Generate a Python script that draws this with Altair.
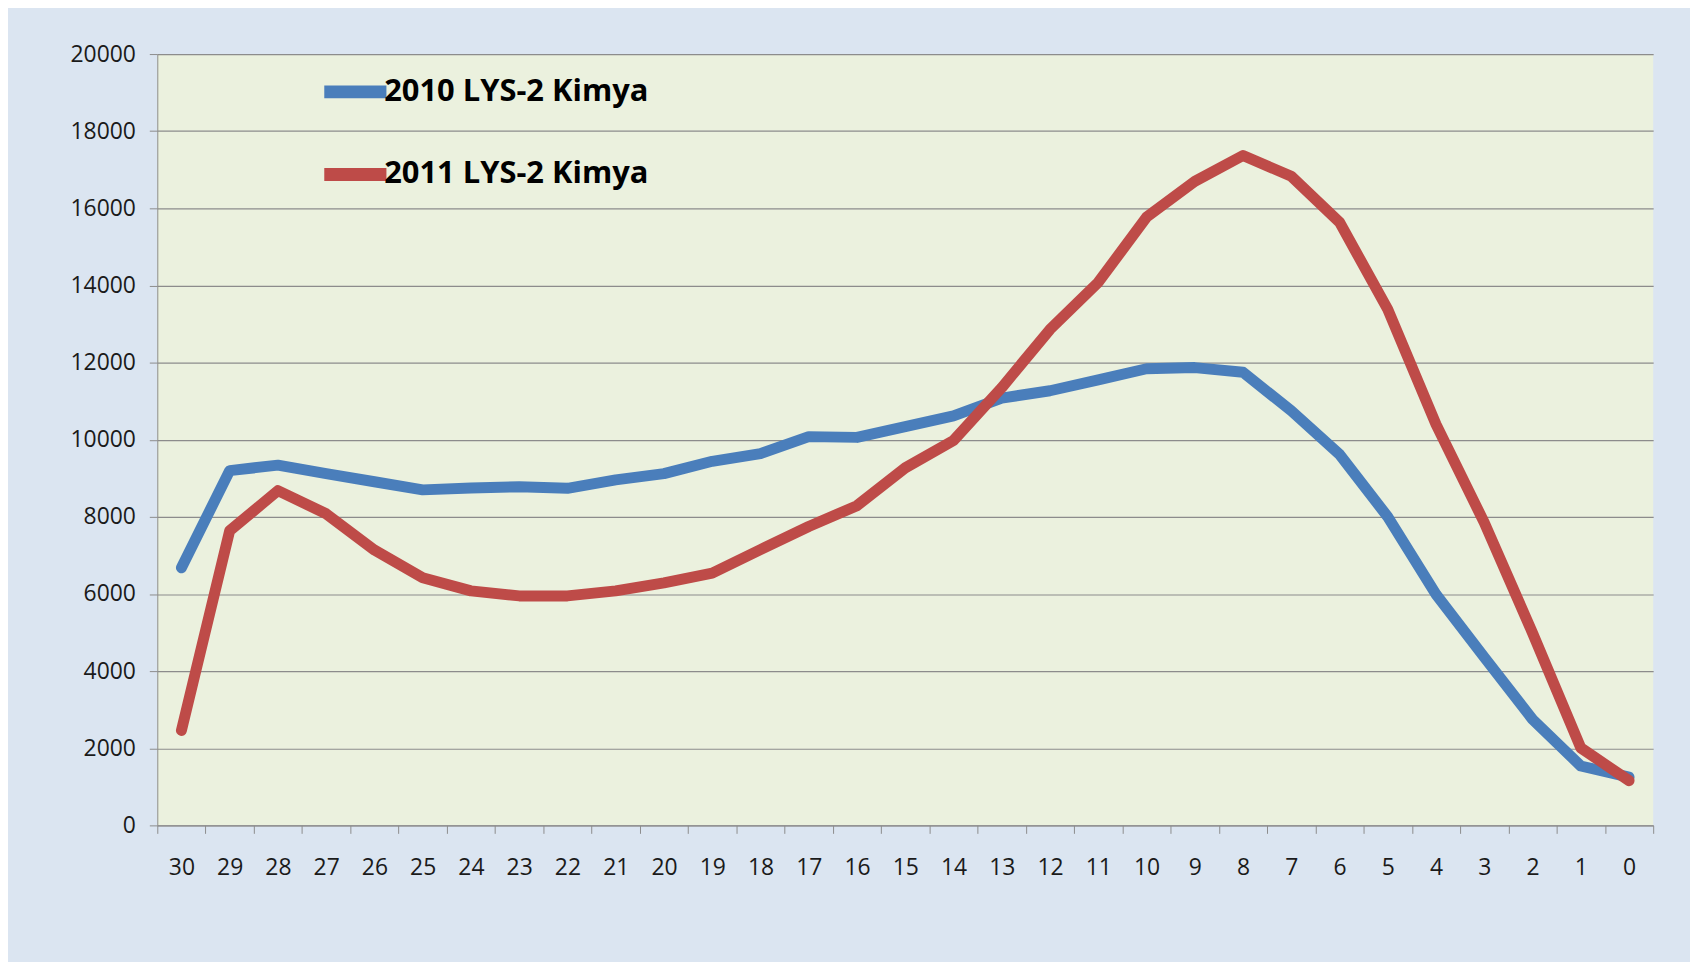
import altair as alt
import pandas as pd

days = [30, 29, 28, 27, 26, 25, 24, 23, 22, 21, 20, 19, 18, 17, 16, 15,
        14, 13, 12, 11, 10, 9, 8, 7, 6, 5, 4, 3, 2, 1, 0]
s2010 = [6680, 9200, 9340, 9120, 8910, 8700, 8750, 8780, 8740, 8960, 9120,
         9440, 9640, 10080, 10060, 10340, 10620, 11080, 11270, 11550, 11840,
         11870, 11750, 10750, 9620, 8000, 5990, 4360, 2750, 1540, 1250]
s2011 = [2460, 7640, 8680, 8080, 7140, 6420, 6080, 5950, 5950, 6080, 6290,
         6540, 7150, 7750, 8290, 9270, 9980, 11350, 12860, 14080, 15770,
         16700, 17370, 16830, 15640, 13380, 10400, 7850, 4990, 2010, 1160]
series = ["2010 LYS-2 Kimya", "2011 LYS-2 Kimya"]
colors = ["#4A7EBB", "#BE4B48"]
y_ticks = list(range(0, 20001, 2000))

rows = []
for d, v in zip(days, s2010):
    rows.append({"day": d, "value": v, "series": series[0]})
for d, v in zip(days, s2011):
    rows.append({"day": d, "value": v, "series": series[1]})
df = pd.DataFrame(rows)

x_vals = [d + 0.5 for d in days] + days + [-0.5]

FONT = "Open Sans"

chart = alt.Chart(df).mark_line(strokeWidth=11, strokeCap="round", strokeJoin="round").encode(
    x=alt.X("day:Q",
            scale=alt.Scale(domain=[30.5, -0.5], nice=False, zero=False),
            axis=alt.Axis(title=None, values=x_vals, grid=False,
                          labelExpr="datum.value % 1 === 0 ? format(datum.value, 'd') : ''",
                          tickOpacity={"condition": {"test": "datum.value % 1 === 0", "value": 0}, "value": 1},
                          tickSize=8, tickColor="#8c8c8c", domainColor="#8c8c8c",
                          labelPadding=23, labelFont=FONT, labelFontSize=23,
                          labelColor="#1a1a1a", labelOverlap=False, labelFlush=False)),
    y=alt.Y("value:Q",
            scale=alt.Scale(domain=[0, 20000], nice=False),
            axis=alt.Axis(title=None, values=y_ticks, format="d", grid=True,
                          gridColor="#8c8c8c", gridWidth=1.2, tickSize=8,
                          tickColor="#8c8c8c", domainColor="#8c8c8c",
                          labelPadding=14, labelFont=FONT, labelFontSize=23,
                          labelColor="#1a1a1a")),
    color=alt.Color("series:N",
                    scale=alt.Scale(domain=series, range=colors),
                    legend=alt.Legend(title=None, orient="none", legendX=147, legendY=0,
                                      symbolType="stroke", symbolSize=3900,
                                      symbolStrokeWidth=13, symbolOffset=14,
                                      labelFont=FONT,
                                      labelFontSize=31, labelFontWeight="bold",
                                      labelColor="#000000", labelOffset={"expr": "-9"},
                                      rowPadding=19, labelLimit=600)),
).properties(
    width=1503,
    height=775,
    background="#DBE5F1",
    padding={"left": 150, "top": 44, "right": 37, "bottom": 135},
    autosize=alt.AutoSizeParams(type="none"),
).configure_view(
    fill="#EBF1DE",
    stroke=None,
)

chart.save("out.html", embed_options={"renderer": "svg", "actions": False})
